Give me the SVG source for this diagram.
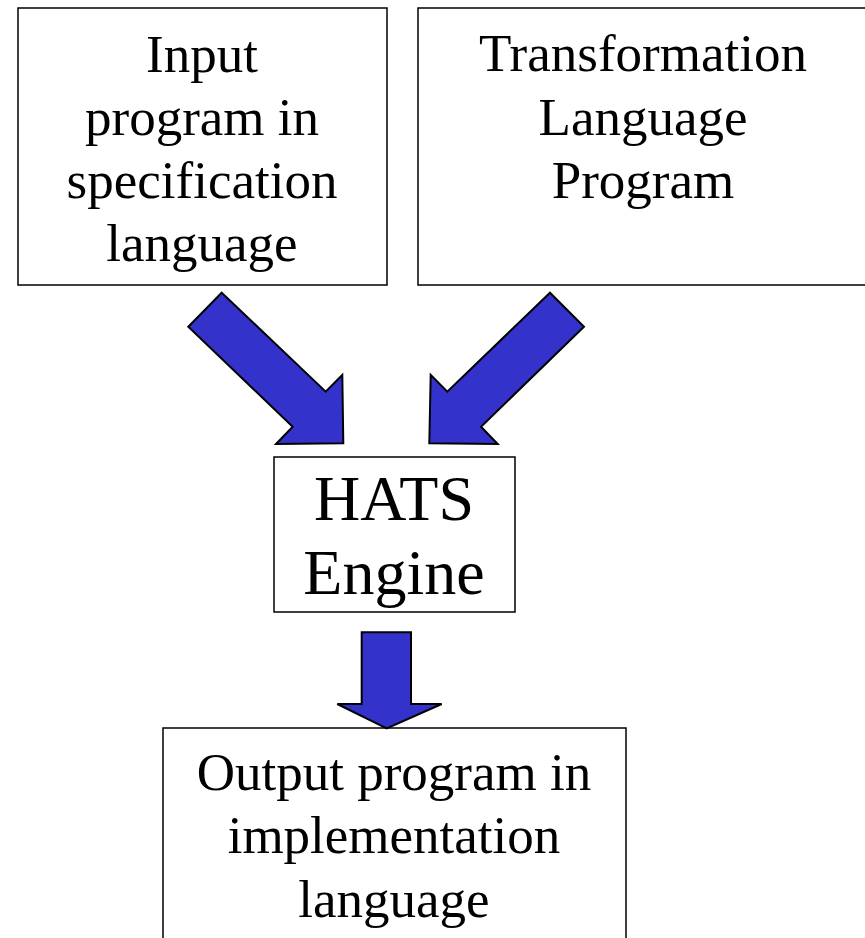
<svg xmlns="http://www.w3.org/2000/svg" width="865" height="938" viewBox="0 0 865 938">
<style>
.box{fill:#fff;stroke:#000;stroke-width:1.5}
.t{font-family:"Liberation Serif","Times New Roman",serif;font-size:53px;fill:#000;text-anchor:middle}
.big{font-size:64px}
.arrow{fill:#3333cc;stroke:#000;stroke-width:2;stroke-linejoin:miter}
</style>
<rect width="865" height="938" fill="#fff"/>
<g id="input">
<rect class="box" x="18" y="8" width="369" height="277"/>
<text class="t" x="202" y="72">Input</text>
<text class="t" x="202" y="135">program in</text>
<text class="t" x="202" y="198">specification</text>
<text class="t" x="202" y="261">language</text>
</g>
<g id="transformation">
<rect class="box" x="418" y="8" width="455" height="277"/>
<text class="t" x="643" y="71">Transformation</text>
<text class="t" x="643" y="135">Language</text>
<text class="t" x="643" y="198">Program</text>
</g>
<g id="hats">
<rect class="box" x="274" y="457" width="241" height="155"/>
<text class="t big" x="394" y="520">HATS</text>
<text class="t big" x="394" y="594">Engine</text>
</g>
<g id="output">
<rect class="box" x="163" y="728" width="463" height="220"/>
<text class="t" x="394" y="790">Output program in</text>
<text class="t" x="394" y="853">implementation</text>
<text class="t" x="394" y="917">language</text>
</g>
<g id="connectors">
<polygon class="arrow" points="221.7,292.7 325.7,391.7 342.3,375 343.3,443.3 276,444 292.7,426.7 188.3,326.7"/>
<polygon class="arrow" points="550,292.7 584,326.7 481,426.7 497.7,444 429.3,443.3 430.7,375 447.3,391.7"/>
<polygon class="arrow" points="361.7,632.3 411,632.3 411,704 441.7,704 386.7,728.3 337.3,704 361.7,704"/>
</g>
</svg>
